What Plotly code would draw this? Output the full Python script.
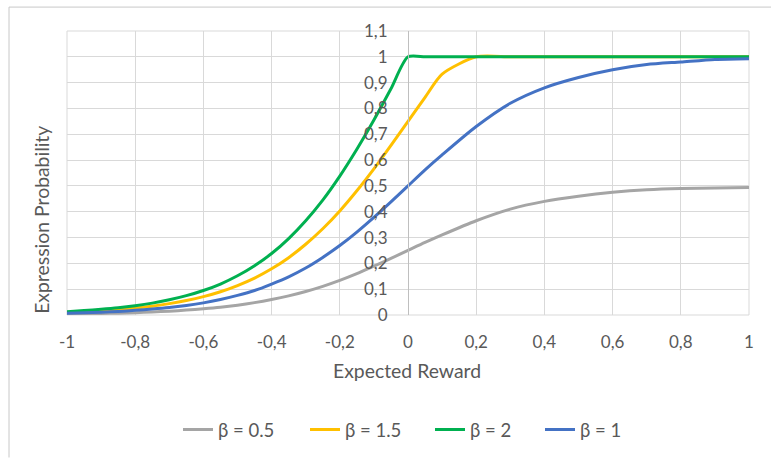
import plotly.graph_objects as go

# Expected reward values (dense up to 0.1, coarser once the curves level off)
reward = [-1.0, -0.95, -0.9, -0.85, -0.8, -0.75, -0.7, -0.65, -0.6, -0.55, -0.5,
          -0.45, -0.4, -0.35, -0.3, -0.25, -0.2, -0.15, -0.1, -0.05, 0.0,
          0.05, 0.1, 0.2, 0.3, 0.4, 0.5, 0.6, 0.7, 0.8, 0.9, 1.0]

# Expression probability for each beta
p_beta_05 = [0.003, 0.004, 0.006, 0.007, 0.009, 0.012, 0.015, 0.019, 0.024, 0.03, 0.038,
             0.048, 0.06, 0.074, 0.091, 0.111, 0.134, 0.16, 0.189, 0.219, 0.25,
             0.281, 0.31, 0.365, 0.41, 0.44, 0.46, 0.475, 0.485, 0.49, 0.492, 0.494]
p_beta_15 = [0.01, 0.013, 0.017, 0.021, 0.027, 0.034, 0.044, 0.056, 0.071, 0.09, 0.114,
             0.143, 0.179, 0.222, 0.274, 0.334, 0.403, 0.481, 0.566, 0.657, 0.75,
             0.843, 0.933, 1.0, 1.0, 1.0, 1.0, 1.0, 1.0, 1.0, 1.0, 1.0]
p_beta_2 = [0.013, 0.017, 0.022, 0.028, 0.036, 0.046, 0.059, 0.075, 0.095, 0.12, 0.152,
            0.191, 0.238, 0.296, 0.365, 0.445, 0.538, 0.642, 0.755, 0.876, 1.0,
            1.0, 1.0, 1.0, 1.0, 1.0, 1.0, 1.0, 1.0, 1.0, 1.0, 1.0]
p_beta_1 = [0.007, 0.009, 0.011, 0.014, 0.018, 0.023, 0.029, 0.037, 0.047, 0.06, 0.076,
            0.095, 0.12, 0.148, 0.182, 0.223, 0.269, 0.321, 0.378, 0.438, 0.5,
            0.562, 0.62, 0.73, 0.82, 0.88, 0.92, 0.95, 0.97, 0.98, 0.99, 0.993]

series_names = ["β = 0.5", "β = 1.5", "β = 2", "β = 1"]
series_colors = ["#A5A5A5", "#FFC000", "#00B050", "#4472C4"]
series_values = [p_beta_05, p_beta_15, p_beta_2, p_beta_1]

x_tick_vals = [-1, -0.8, -0.6, -0.4, -0.2, 0, 0.2, 0.4, 0.6, 0.8, 1]
x_tick_text = ["-1", "-0,8", "-0,6", "-0,4", "-0,2", "0", "0,2", "0,4", "0,6", "0,8", "1"]

W, H = 771, 459
L, R, T, B = 67, 749, 31, 316  # plot area edges in pixels


def px(xp):
    return (xp - L) / (R - L)


def py(yp):
    return (B - yp) / (B - T)


FONT = "Lato, 'Open Sans', sans-serif"
TXT = "#595959"
TICK_SIZE = 17
TITLE_SIZE = 19.4
LEGEND_SIZE = 18.5

# one legend box per series so each entry sits at its own x position
legend_left_px = [178, 305, 430, 540]
legend_ids = ["legend", "legend2", "legend3", "legend4"]

fig = go.Figure()
for name, color, vals, lid in zip(series_names, series_colors, series_values, legend_ids):
    fig.add_trace(go.Scatter(
        x=reward, y=vals, name=name, mode="lines", legend=lid, showlegend=True,
        line=dict(color=color, width=3, shape="spline", smoothing=0.7),
    ))

legend_layout = {}
for lid, lx in zip(legend_ids, legend_left_px):
    legend_layout[lid] = dict(
        orientation="h", xanchor="left", yanchor="middle",
        x=px(lx), y=py(430),
        font=dict(family=FONT, color=TXT, size=LEGEND_SIZE),
        bgcolor="rgba(0,0,0,0)", borderwidth=0,
    )

fig.update_layout(
    width=W, height=H,
    showlegend=True,
    margin=dict(l=L, r=W - R, t=T, b=H - B, pad=0),
    paper_bgcolor="white", plot_bgcolor="white",
    separators=", ",
    font=dict(family=FONT, color=TXT, size=TICK_SIZE),
    xaxis=dict(
        range=[-1, 1], tickvals=x_tick_vals, ticktext=x_tick_text,
        showgrid=True, gridcolor="#d9d9d9", gridwidth=1,
        zeroline=False, showline=False, ticks="",
        ticklabelstandoff=15,
        tickfont=dict(family=FONT, color=TXT, size=TICK_SIZE),
    ),
    yaxis=dict(
        range=[0, 1.1], dtick=0.1, tick0=0,
        anchor="free", position=0.5,
        showgrid=True, gridcolor="#d9d9d9", gridwidth=1,
        zeroline=False, showline=True, linecolor="#bfbfbf", linewidth=1,
        ticks="", ticklabelstandoff=17,
        tickfont=dict(family=FONT, color=TXT, size=TICK_SIZE),
    ),
    shapes=[
        # plot area outline (outer gridlines)
        dict(type="rect", xref="paper", yref="paper", x0=0, x1=1, y0=0, y1=1,
             line=dict(color="#d9d9d9", width=1), layer="below"),
        # chart frame
        dict(type="line", xref="paper", yref="paper",
             x0=px(9), x1=px(771), y0=py(7), y1=py(7),
             line=dict(color="#c8c8c8", width=1)),
        dict(type="line", xref="paper", yref="paper",
             x0=px(9), x1=px(9), y0=py(7), y1=py(459),
             line=dict(color="#c8c8c8", width=1)),
    ],
    annotations=[
        dict(text="Expected Reward", xref="paper", yref="paper",
             x=px(407), y=py(372), xanchor="center", yanchor="middle",
             showarrow=False, font=dict(family=FONT, color=TXT, size=TITLE_SIZE)),
        dict(text="Expression Probability", xref="paper", yref="paper",
             x=px(41.5), y=py(221), xanchor="center", yanchor="middle",
             textangle=-90, showarrow=False,
             font=dict(family=FONT, color=TXT, size=TITLE_SIZE)),
    ],
    **legend_layout,
)

fig.write_html("out.html")
